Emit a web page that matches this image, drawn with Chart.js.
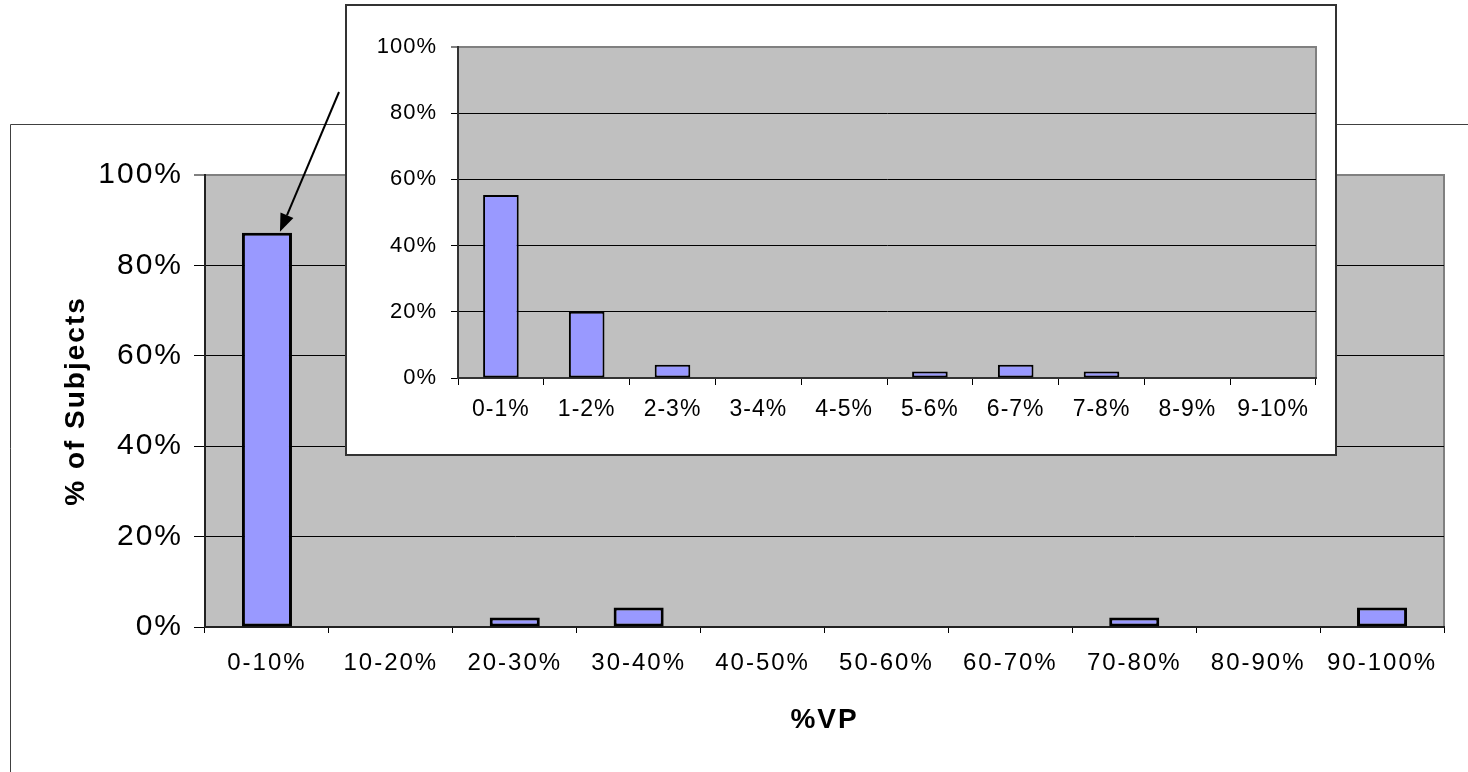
<!DOCTYPE html>
<html>
<head>
<meta charset="utf-8">
<script src="https://cdn.jsdelivr.net/npm/chart.js@4/dist/chart.umd.min.js"></script>
<style>
  html, body { margin: 0; padding: 0; background: #fff; }
  #wrap { position: relative; width: 1468px; height: 772px; overflow: hidden; }
  #main { position: absolute; left: 0; top: 0; }
  #insetBox { position: absolute; left: 345px; top: 4px; width: 992px; height: 452px;
              box-sizing: border-box; border: 2px solid #333; background: #fff; }
  #inset { position: absolute; left: 0; top: 0; }
</style>
</head>
<body>
<div id="wrap">
  <canvas id="main" width="1468" height="772"></canvas>
  <div id="insetBox"><canvas id="inset" width="988" height="448"></canvas></div>
</div>
<script>
// Share of subjects per %VP bin (whole range, 10-point bins)
const vpBins = ['0-10%', '10-20%', '20-30%', '30-40%', '40-50%', '50-60%', '60-70%', '70-80%', '80-90%', '90-100%'];
const subjectShare = [87.2, 0, 2.1, 4.3, 0, 0, 0, 2.1, 0, 4.3];

// Breakdown of the lowest bin into 1-point bins
const lowBins = ['0-1%', '1-2%', '2-3%', '3-4%', '4-5%', '5-6%', '6-7%', '7-8%', '8-9%', '9-10%'];
const lowShare = [55.3, 20, 4, 0, 0, 2, 4, 2, 0, 0];

// Shared percent axis
const percentMin = 0;
const percentMax = 100;
const percentStep = 20;

const FONT = "'Liberation Sans', Arial, sans-serif";
const BAR_FILL = '#9999ff';
const PLOT_FILL = '#c0c0c0';

// Excel-style grey plot area with a darker top/right edge
const plotBackdrop = {
  id: 'plotBackdrop',
  beforeDraw(chart) {
    const { ctx, chartArea: a } = chart;
    ctx.save();
    ctx.fillStyle = PLOT_FILL;
    ctx.fillRect(a.left, a.top, a.right - a.left, a.bottom - a.top);
    ctx.strokeStyle = '#808080';
    ctx.lineWidth = 2;
    ctx.beginPath();
    ctx.moveTo(a.left, a.top);
    ctx.lineTo(a.right, a.top);
    ctx.lineTo(a.right, a.bottom);
    ctx.stroke();
    ctx.restore();
  }
};

// Slightly tracked-out lettering for all canvas text
function letterSpacing(px) {
  return {
    id: 'letterSpacing',
    beforeLayout(chart) { chart.ctx.letterSpacing = px; },
    beforeDraw(chart) { chart.ctx.letterSpacing = px; }
  };
}

// Outer frame of the main chart (only top and left edges are on screen)
const chartFrame = {
  id: 'chartFrame',
  beforeDraw(chart) {
    const ctx = chart.ctx;
    ctx.save();
    ctx.strokeStyle = '#404040';
    ctx.lineWidth = 1;
    ctx.beginPath();
    ctx.moveTo(10.5, chart.height);
    ctx.lineTo(10.5, 124.5);
    ctx.lineTo(chart.width, 124.5);
    ctx.stroke();
    ctx.restore();
  }
};

// Callout arrow from the zoomed panel down to the first bar
const calloutArrow = {
  id: 'calloutArrow',
  afterDraw(chart) {
    const xs = chart.scales.x, ys = chart.scales.y;
    const tipX = xs.getPixelForValue(0) + 13;
    const tipY = ys.getPixelForValue(subjectShare[0]) - 1;
    const fromX = 339, fromY = 92;
    const ang = Math.atan2(tipY - fromY, tipX - fromX);
    const headLen = 18, headHalf = 7;
    const baseX = tipX - headLen * Math.cos(ang);
    const baseY = tipY - headLen * Math.sin(ang);
    const ctx = chart.ctx;
    ctx.save();
    ctx.strokeStyle = '#000';
    ctx.fillStyle = '#000';
    ctx.lineWidth = 2;
    ctx.beginPath();
    ctx.moveTo(fromX, fromY);
    ctx.lineTo(baseX, baseY);
    ctx.stroke();
    ctx.beginPath();
    ctx.moveTo(tipX, tipY);
    ctx.lineTo(baseX + headHalf * Math.sin(ang), baseY - headHalf * Math.cos(ang));
    ctx.lineTo(baseX - headHalf * Math.sin(ang), baseY + headHalf * Math.cos(ang));
    ctx.closePath();
    ctx.fill();
    ctx.restore();
  }
};

const gridColor = c => (c.tick && c.tick.value === percentMax ? '#808080' : '#000');
const gridWidth = c => (c.tick && c.tick.value === percentMax ? 2 : 1);

// Main histogram
new Chart(document.getElementById('main'), {
  type: 'bar',
  data: {
    labels: vpBins,
    datasets: [{
      data: subjectShare,
      backgroundColor: BAR_FILL,
      borderColor: '#000',
      borderWidth: 3,
      borderSkipped: false,
      barPercentage: 0.404,
      categoryPercentage: 1
    }]
  },
  options: {
    responsive: false,
    animation: false,
    devicePixelRatio: 1,
    layout: { padding: { left: 10, top: 175, right: 24, bottom: 0 } },
    plugins: { legend: { display: false }, tooltip: { enabled: false } },
    scales: {
      x: {
        offset: true,
        grid: { offset: true, drawOnChartArea: false, drawTicks: true, tickLength: 6, color: '#000', lineWidth: 1 },
        border: { color: '#222', width: 2 },
        ticks: { color: '#000', font: { family: FONT, size: 24 }, padding: 16, maxRotation: 0, autoSkip: false },
        title: { display: true, text: '%VP', color: '#000',
                 font: { family: FONT, size: 28, weight: 'bold' }, padding: { top: 0, bottom: 35 } },
        afterFit(s) { s.height = 145; }
      },
      y: {
        min: percentMin, max: percentMax,
        ticks: { stepSize: percentStep, callback: v => v + '%', color: '#000',
                 font: { family: FONT, size: 30 }, padding: 11 },
        grid: { color: gridColor, lineWidth: gridWidth, drawTicks: true, tickLength: 11 },
        border: { color: '#222', width: 2 },
        title: { display: true, text: '% of Subjects', color: '#000',
                 font: { family: FONT, size: 28, weight: 'bold' }, padding: { top: 49, bottom: 0 } },
        afterFit(s) { s.width = 195; }
      }
    }
  },
  plugins: [letterSpacing('2px'), chartFrame, plotBackdrop, calloutArrow]
});

// Zoomed panel for the 0-10% bin
new Chart(document.getElementById('inset'), {
  type: 'bar',
  data: {
    labels: lowBins,
    datasets: [{
      data: lowShare,
      backgroundColor: BAR_FILL,
      borderColor: '#000',
      borderWidth: 2,
      borderSkipped: false,
      barPercentage: 0.415,
      categoryPercentage: 1
    }]
  },
  options: {
    responsive: false,
    animation: false,
    devicePixelRatio: 1,
    layout: { padding: { left: 0, top: 41, right: 19, bottom: 0 } },
    plugins: { legend: { display: false }, tooltip: { enabled: false } },
    scales: {
      x: {
        offset: true,
        grid: { offset: true, drawOnChartArea: false, drawTicks: true, tickLength: 7, color: '#000', lineWidth: 1 },
        border: { color: '#333', width: 2 },
        ticks: { color: '#000', font: { family: FONT, size: 23 }, padding: 11, maxRotation: 0, autoSkip: false },
        afterFit(s) { s.height = 76; }
      },
      y: {
        min: percentMin, max: percentMax,
        ticks: { stepSize: percentStep, callback: v => v + '%', color: '#000',
                 font: { family: FONT, size: 22 }, padding: 14 },
        grid: { color: gridColor, lineWidth: gridWidth, drawTicks: true, tickLength: 7 },
        border: { color: '#333', width: 2 },
        afterFit(s) { s.width = 111; }
      }
    }
  },
  plugins: [letterSpacing('1px'), plotBackdrop]
});
</script>
</body>
</html>
